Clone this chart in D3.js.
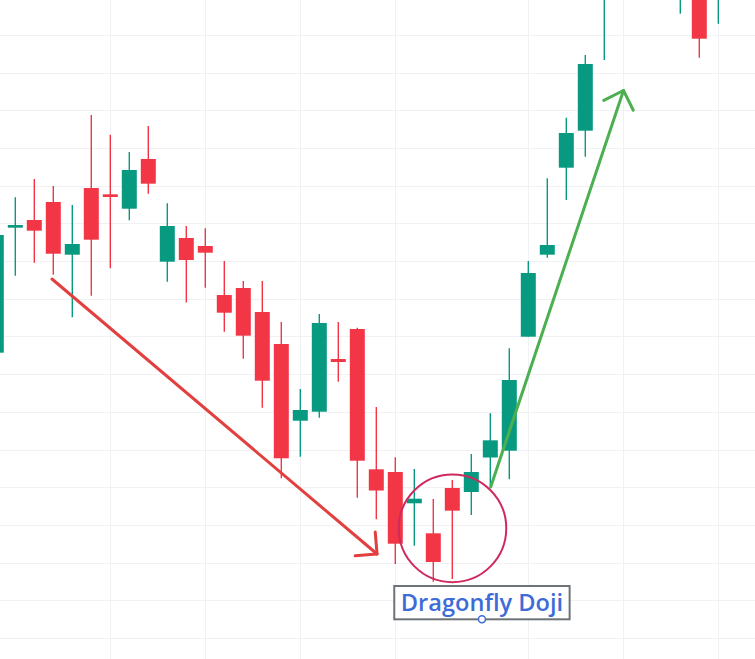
<!DOCTYPE html>
<html>
<head>
<meta charset="utf-8">
<script src="https://cdn.jsdelivr.net/npm/d3@7"></script>
<style>
  html, body { margin: 0; padding: 0; background: #ffffff; overflow: hidden; }
  svg { display: block; }
</style>
</head>
<body>
<svg id="chart" width="755" height="659"></svg>
<script>
// ---- data ----
const days   = [0, 1, 2, 3, 4, 5, 6, 7, 8, 9, 10, 11, 12, 13, 14, 15, 16, 17, 18, 19,
                20, 21, 22, 23, 24, 25, 26, 27, 28, 29, 30, 31, 32, 36, 37, 38];
const opens  = [175.70, 208.86, 210.90, 215.68, 201.70, 219.39, 217.72, 213.90, 227.09, 199.84,
                206.13, 204.01, 191.00, 192.86, 186.49, 178.00, 157.65, 160.04, 174.02, 181.98,
                144.76, 144.04, 135.74, 127.78, 139.80, 138.74, 147.89, 149.69, 179.94, 201.70,
                224.78, 234.60, 271.00, 272.00, 280.00, 273.00];
const highs  = [208.78, 216.93, 221.78, 219.92, 214.88, 238.76, 233.54, 228.95, 235.84, 215.33,
                209.31, 208.70, 200.03, 194.72, 194.72, 183.84, 166.06, 185.96, 183.84, 182.33,
                161.29, 147.94, 144.84, 136.88, 141.92, 148.82, 159.62, 176.86, 200.03, 221.97,
                238.05, 254.68, 288.00, 290.00, 284.00, 291.00];
const lows   = [173.76, 196.13, 199.57, 196.39, 185.09, 190.82, 198.09, 210.82, 217.88, 194.53,
                189.01, 192.94, 181.27, 174.10, 161.10, 142.37, 148.10, 158.45, 168.00, 137.22,
                131.49, 119.63, 124.49, 114.94, 115.65, 132.63, 140.33, 142.11, 179.90, 200.90,
                216.21, 227.70, 253.35, 265.64, 253.97, 262.99];
const closes = [206.92, 209.58, 208.07, 201.96, 204.54, 205.68, 217.01, 224.17, 220.54, 209.31,
                200.29, 202.23, 186.31, 180.21, 168.27, 147.68, 160.49, 183.58, 173.23, 147.04,
                139.13, 125.02, 136.96, 120.16, 133.78, 144.04, 152.45, 168.45, 196.84, 204.27,
                233.99, 252.29, 283.00, 285.00, 259.01, 286.00];

// price grid every 10 units, vertical grid on these sessions
const priceTicks = d3.range(90, 281, 10);
const gridDays   = [6, 11, 16, 21, 28, 33, 38];

// annotations in data coordinates (day, price)
const downTrend  = { from: [2.93, 195.25], to: [20.04, 122.29] };
const upTrend    = { from: [26.02, 140.06], to: [33.01, 245.26] };
const highlight  = { center: [24.01, 129.11], rDays: 2.83, rPrice: 14.3 };
const labelText  = "Dragonfly Doji";
const labelAnchor = [25.56, 104.96];

// ---- drawing ----
const W = 755, H = 659;
const svg = d3.select("#chart");

const x = d3.scaleLinear().domain([0, 39]).range([-3.7, 737.3]);
const y = d3.scaleLinear().domain([100, 260]).range([638, 34.96]);

const candles = days.map((d, i) => ({ d, o: opens[i], h: highs[i], l: lows[i], c: closes[i] }));

svg.append("defs").append("clipPath").attr("id", "plot")
  .append("rect").attr("x", 0).attr("y", 0).attr("width", W).attr("height", H);

const g = svg.append("g").attr("clip-path", "url(#plot)");

// grid
g.append("g").selectAll("line").data(priceTicks).join("line")
  .attr("x1", 0).attr("x2", W)
  .attr("y1", d => Math.round(y(d)) + 0.5).attr("y2", d => Math.round(y(d)) + 0.5)
  .attr("stroke", "#eff1f4").attr("stroke-width", 1);
g.append("g").selectAll("line").data(gridDays).join("line")
  .attr("y1", 0).attr("y2", H)
  .attr("x1", d => Math.round(x(d)) + 0.5).attr("x2", d => Math.round(x(d)) + 0.5)
  .attr("stroke", "#eff1f4").attr("stroke-width", 1);

const UP = "#089981", DOWN = "#f23645";
const bodyW = 15;
const cg = g.append("g");
const cand = cg.selectAll("g").data(candles).join("g");
cand.append("line")
  .attr("x1", d => x(d.d)).attr("x2", d => x(d.d))
  .attr("y1", d => y(d.h)).attr("y2", d => y(d.l))
  .attr("stroke", d => d.c >= d.o ? UP : DOWN).attr("stroke-width", 1.4);
cand.append("rect")
  .attr("x", d => x(d.d) - bodyW / 2)
  .attr("width", bodyW)
  .attr("y", d => y(Math.max(d.o, d.c)))
  .attr("height", d => Math.max(2.5, Math.abs(y(d.o) - y(d.c))))
  .attr("fill", d => d.c >= d.o ? UP : DOWN);

// arrows
function arrow(a, color) {
  const x1 = x(a.from[0]), y1 = y(a.from[1]);
  const x2 = x(a.to[0]), y2 = y(a.to[1]);
  const ang = Math.atan2(y1 - y2, x1 - x2);
  const len = 22, spread = Math.PI / 4;
  const ag = g.append("g").attr("fill", "none").attr("stroke", color)
    .attr("stroke-width", 3).attr("stroke-linecap", "round").attr("stroke-linejoin", "round");
  ag.append("line").attr("x1", x1).attr("y1", y1).attr("x2", x2).attr("y2", y2);
  ag.append("path").attr("d", d3.line()([
    [x2 + len * Math.cos(ang + spread), y2 + len * Math.sin(ang + spread)],
    [x2, y2],
    [x2 + len * Math.cos(ang - spread), y2 + len * Math.sin(ang - spread)]
  ]));
}
arrow(downTrend, "#e2403f");
arrow(upTrend, "#4caf50");

// highlight ellipse
const cx = x(highlight.center[0]), cy = y(highlight.center[1]);
g.append("ellipse")
  .attr("cx", cx).attr("cy", cy)
  .attr("rx", x(highlight.center[0] + highlight.rDays) - cx)
  .attr("ry", cy - y(highlight.center[1] + highlight.rPrice))
  .attr("fill", "none").attr("stroke", "#cf2a5e").attr("stroke-width", 2);

// label
const ax = x(labelAnchor[0]), ay = y(labelAnchor[1]);
const lg = g.append("g");
const box = lg.append("rect");
const txt = lg.append("text")
  .attr("x", ax).attr("y", ay - 8.3)
  .attr("text-anchor", "middle")
  .attr("font-family", "'Open Sans', 'Noto Sans', sans-serif")
  .attr("font-weight", 600)
  .attr("font-size", 23.6)
  .attr("fill", "#3d6cd8")
  .text(labelText);
const bb = txt.node().getBBox();
box.attr("x", bb.x - 6.5).attr("width", bb.width + 13)
  .attr("y", ay - 33.3).attr("height", 33.3)
  .attr("fill", "#ffffff").attr("stroke", "#6e7379").attr("stroke-width", 2);
lg.append("circle").attr("cx", ax).attr("cy", ay).attr("r", 3.5)
  .attr("fill", "#ffffff").attr("stroke", "#3d6cd8").attr("stroke-width", 1.5);
</script>
</body>
</html>
